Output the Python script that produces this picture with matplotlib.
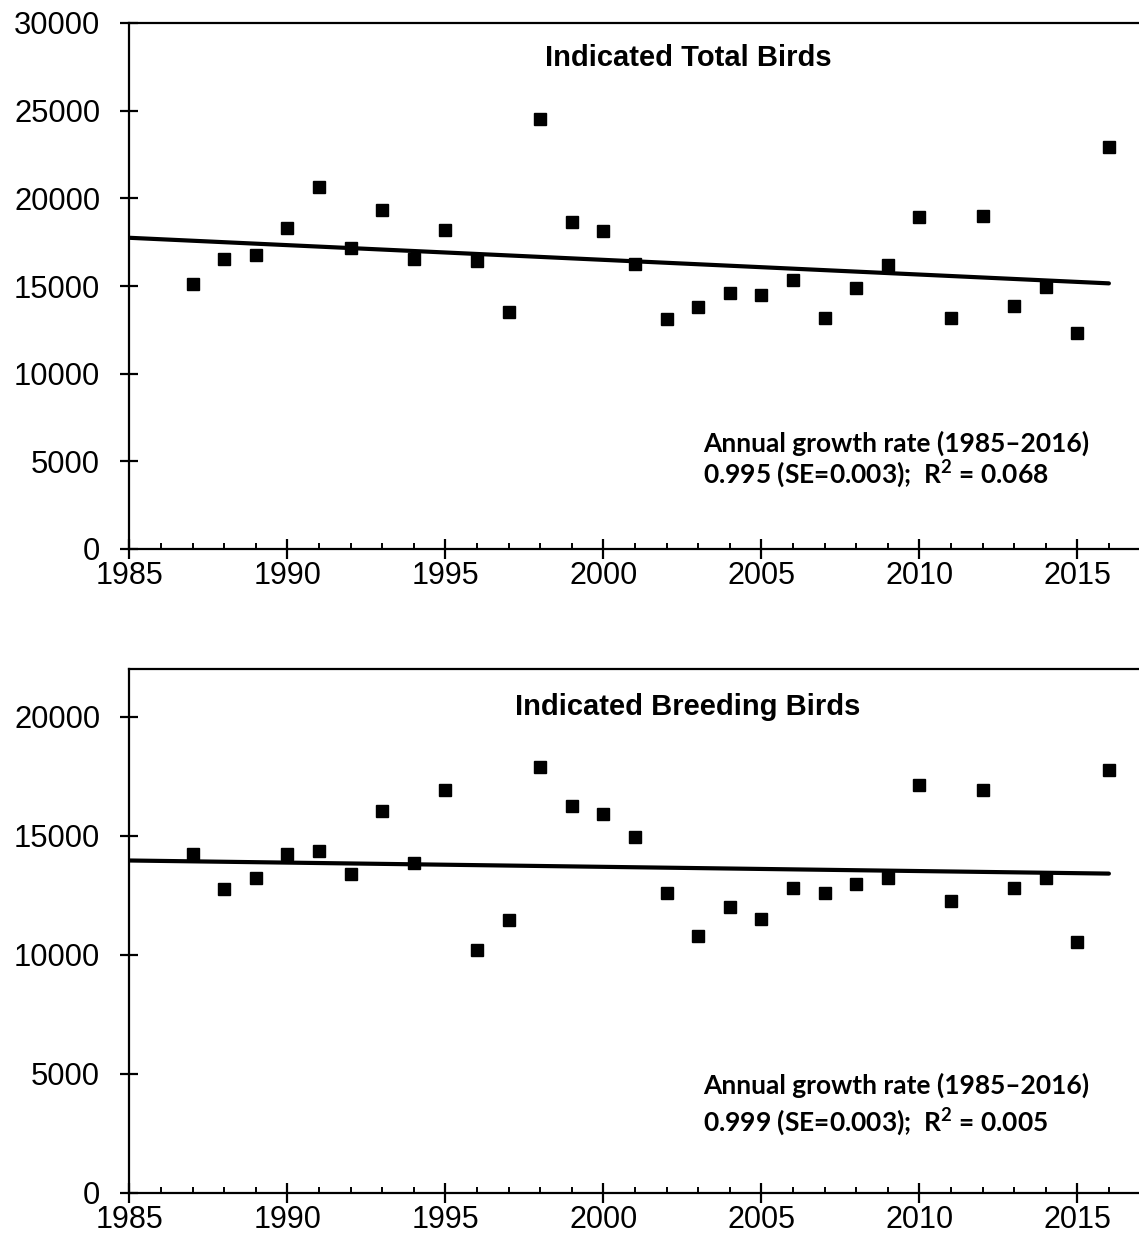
import matplotlib
matplotlib.use("Agg")
import matplotlib.pyplot as plt
from matplotlib.ticker import MultipleLocator

years = list(range(1987, 2017))
total_birds = [15100, 16560, 16740, 18320, 20630, 17190, 19330, 16560, 18210, 16430,
               13530, 24500, 18630, 18160, 16230, 13090, 13820, 14620, 14480, 15340,
               13150, 14900, 16200, 18960, 13150, 19010, 13850, 14960, 12330, 22940]
breeding_birds = [14240, 12780, 13240, 14240, 14370, 13400, 16030, 13850, 16920, 10210,
                  11450, 17880, 16260, 15910, 14940, 12610, 10800, 12020, 11490, 12800,
                  12610, 12960, 13240, 17110, 12280, 16940, 12800, 13240, 10520, 17780]
trend_years = [1985, 2016]
total_trend = [17750, 15150]
breeding_trend = [13960, 13410]

titles = ["Indicated Total Birds", "Indicated Breeding Birds"]
note_line1 = "Annual growth rate (1985\u20132016)"
note_line2 = ["0.995 (SE=0.003);  R$^{2}$ = 0.068",
              "0.999 (SE=0.003);  R$^{2}$ = 0.005"]

W, H = 1139, 1247
fig = plt.figure(figsize=(W / 100, H / 100), dpi=100)
plt.rcParams['font.family'] = ['Liberation Sans', 'DejaVu Sans']
plt.rcParams['mathtext.fontset'] = 'custom'
plt.rcParams['mathtext.rm'] = 'Lato:bold'
plt.rcParams['mathtext.it'] = 'Lato:bold'
plt.rcParams['mathtext.bf'] = 'Lato:bold'
plt.rcParams['mathtext.default'] = 'rm'

x0 = 129.3
left = x0 / W
width = 1 - left
px_per_year = 31.6
panels = [
    dict(rect=[left, (H - 549) / H, width, (549 - 23) / H], ymax=30000,
         data=total_birds, trend=total_trend, title=titles[0], note2=note_line2[0],
         title_y=28000, note_y=(6050, 4300)),
    dict(rect=[left, (H - 1193) / H, width, (1193 - 669) / H], ymax=22000,
         data=breeding_birds, trend=breeding_trend, title=titles[1], note2=note_line2[1],
         title_y=20400, note_y=(4500, 2990)),
]

for p in panels:
    ax = fig.add_axes(p["rect"])
    ax.plot(years, p["data"], linestyle="none", marker="s", markersize=8.5,
            color="black", clip_on=False, zorder=3)
    ax.plot(trend_years, p["trend"], color="black", linewidth=3.0,
            solid_capstyle="round", zorder=2)
    ax.set_xlim(1985, 1985 + (W - x0) / px_per_year)
    ax.set_ylim(0, p["ymax"])
    ax.set_xticks([1985, 1990, 1995, 2000, 2005, 2010, 2015])
    ax.xaxis.set_minor_locator(MultipleLocator(1))
    ax.set_yticks(list(range(0, p["ymax"] + 1, 5000)))
    ax.spines["right"].set_visible(False)
    for s in ["left", "bottom", "top"]:
        ax.spines[s].set_linewidth(1.6)
    ax.tick_params(axis="x", which="major", direction="inout", length=14, width=1.6,
                   labelsize=22, pad=1.5)
    ax.tick_params(axis="x", which="minor", direction="in", length=4.5, width=1.4)
    ax.tick_params(axis="y", which="major", direction="inout", length=13, width=1.6,
                   labelsize=22.3, pad=14.5)
    ax.text(2002.68, p["title_y"], p["title"], ha="center", va="center",
            fontsize=21, fontweight="bold")
    ax.text(2003.15, p["note_y"][0], note_line1, ha="left", va="center",
            fontsize=19, fontweight="bold", family=["Lato", "DejaVu Sans"])
    ax.text(2003.15, p["note_y"][1], p["note2"], ha="left", va="center",
            fontsize=19, fontweight="bold", family=["Lato", "DejaVu Sans"])

fig.savefig("out.png", dpi=100)
